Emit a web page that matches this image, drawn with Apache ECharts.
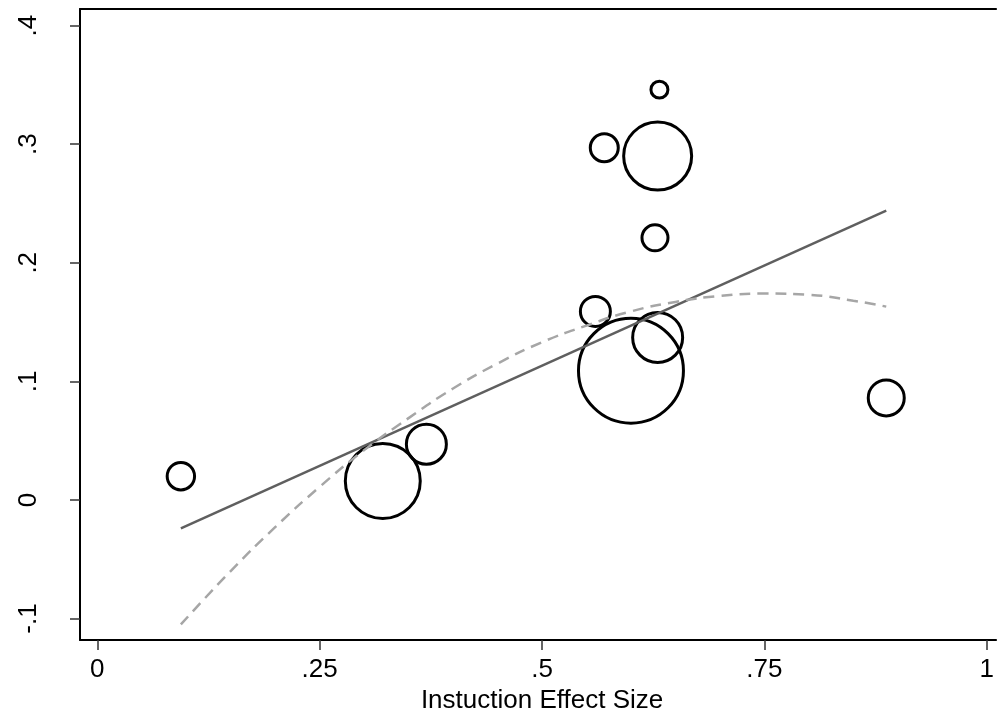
<!DOCTYPE html>
<html>
<head>
<meta charset="utf-8">
<script src="https://cdn.jsdelivr.net/npm/echarts@6/dist/echarts.min.js"></script>
<style>
  html, body { margin: 0; padding: 0; background: #fff; }
  #chart { width: 997px; height: 719px; }
</style>
</head>
<body>
<div id="chart"></div>
<script>
// study points: effect size, outcome, weight (bubble area)
const effectSize = [0.094, 0.321, 0.370, 0.560, 0.570, 0.632, 0.630, 0.627, 0.630, 0.600, 0.887];
const outcome    = [0.020, 0.016, 0.047, 0.159, 0.297, 0.346, 0.290, 0.221, 0.137, 0.109, 0.086];
const weight     = [2.16, 14.8, 4.41, 2.56, 2.25, 0.90, 12.25, 1.96, 6.76, 28.6, 3.61];

// linear fit (end points)
const linFitX = [0.094, 0.887];
const linFitY = [-0.024, 0.244];

// quadratic fit
const quadFitX = [0.094, 0.15, 0.2, 0.25, 0.3, 0.35, 0.4, 0.45, 0.5, 0.55, 0.6, 0.65, 0.7, 0.75, 0.8, 0.85, 0.887];
const quadFitY = [-0.105, -0.060, -0.023, 0.011, 0.042, 0.069, 0.094, 0.115, 0.133, 0.147, 0.159, 0.167, 0.172, 0.174, 0.173, 0.168, 0.163];

const xTicks = [0, 0.25, 0.5, 0.75, 1];
const xTickLabels = ['0', '.25', '.5', '.75', '1'];
const yTicks = [-0.1, 0, 0.1, 0.2, 0.3, 0.4];
const yTickLabels = ['-.1', '0', '.1', '.2', '.3', '.4'];

const FONT = 'Liberation Sans, Arial, Helvetica, sans-serif';

function tickText(ticks, labels) {
    return function (v) {
        for (let i = 0; i < ticks.length; i++) {
            if (Math.abs(ticks[i] - v) < 1e-6) return labels[i];
        }
        return '';
    };
}

const X_MIN = -0.0194, X_MAX = 1.0105;

const chart = echarts.init(document.getElementById('chart'));
const option = {
    animation: false,
    backgroundColor: '#fff',
    grid: {
        left: 80,
        top: 9,
        right: 0,
        bottom: 74
    },
    xAxis: [
        {
            type: 'value',
            min: X_MIN,
            max: X_MAX,
            name: 'Instuction Effect Size',
            nameLocation: 'middle',
            nameGap: 43,
            nameTextStyle: { color: '#000', fontSize: 26, fontFamily: FONT, padding: [0, 0, 0, 8] },
            splitLine: { show: false },
            axisLine: { show: true, onZero: false, lineStyle: { color: '#000', width: 2 } },
            axisTick: {
                show: true,
                length: 10,
                customValues: xTicks,
                lineStyle: { color: '#333', width: 1.5 }
            },
            axisLabel: {
                customValues: xTicks,
                formatter: tickText(xTicks, xTickLabels),
                color: '#000',
                fontSize: 26,
                fontFamily: FONT,
                margin: 17
            }
        },
        {
            // top frame line only
            type: 'value',
            position: 'top',
            min: X_MIN,
            max: X_MAX,
            splitLine: { show: false },
            axisLine: { show: true, onZero: false, lineStyle: { color: '#000', width: 2 } },
            axisTick: { show: false },
            axisLabel: { show: false }
        }
    ],
    yAxis: {
        type: 'value',
        min: -0.1182,
        max: 0.4140,
        splitLine: { show: false },
        axisLine: { show: true, onZero: false, lineStyle: { color: '#000', width: 2 } },
        axisTick: {
            show: true,
            length: 10,
            customValues: yTicks,
            lineStyle: { color: '#333', width: 1.5 }
        },
        axisLabel: {
            customValues: yTicks,
            formatter: tickText(yTicks, yTickLabels),
            rotate: 90,
            color: '#000',
            fontSize: 26,
            fontFamily: FONT,
            margin: 38
        }
    },
    series: [
        {
            type: 'scatter',
            data: effectSize.map((x, i) => [x, outcome[i], weight[i]]),
            symbol: 'circle',
            symbolSize: d => 20 * Math.sqrt(d[2]) - 2,
            itemStyle: { color: 'rgba(0,0,0,0)', borderColor: '#000', borderWidth: 3, opacity: 1 },
            z: 2
        },
        {
            type: 'line',
            data: linFitX.map((x, i) => [x, linFitY[i]]),
            showSymbol: false,
            lineStyle: { color: '#5f5f5f', width: 2.5 },
            z: 3
        },
        {
            type: 'line',
            data: quadFitX.map((x, i) => [x, quadFitY[i]]),
            showSymbol: false,
            smooth: true,
            lineStyle: { color: '#a6a6a6', width: 2.5, type: [11, 7] },
            z: 3
        }
    ]
};
chart.setOption(option);
window.addEventListener('resize', chart.resize);
</script>
</body>
</html>
